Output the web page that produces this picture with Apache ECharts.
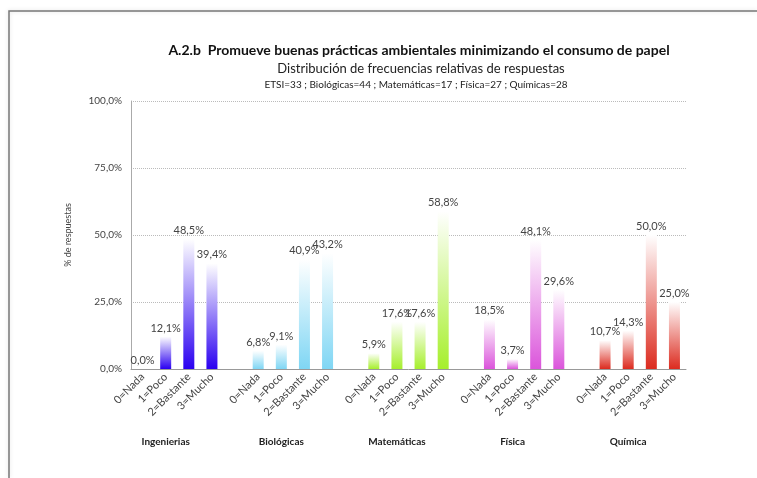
<!DOCTYPE html>
<html>
<head>
<meta charset="utf-8">
<title>A.2.b</title>
<script src="https://cdn.jsdelivr.net/npm/echarts@6/dist/echarts.min.js"></script>
<style>
    html, body { margin: 0; padding: 0; background: #ffffff; }
    #main { width: 757px; height: 478px; }
</style>
</head>
<body>
<div id="main"></div>
<script>
// datos (% de respuestas)
const groups = ['Ingenierias', 'Biológicas', 'Matemáticas', 'Física', 'Química'];
const levels = ['0=Nada', '1=Poco', '2=Bastante', '3=Mucho'];
const ingenierias = [0.0, 12.1, 48.5, 39.4];
const biologicas = [6.8, 9.1, 40.9, 43.2];
const matematicas = [5.9, 17.6, 17.6, 58.8];
const fisica = [18.5, 3.7, 48.1, 29.6];
const quimica = [10.7, 14.3, 50.0, 25.0];
const yTicks = [0, 25, 50, 75, 100];

const groupValues = [ingenierias, biologicas, matematicas, fisica, quimica];
const groupColors = ['#2a00f0', '#7fd6f4', '#a6ef2c', '#db55db', '#dc2b1f'];

const font = 'Lato, "Open Sans", sans-serif';

function pct(v) {
    return v.toFixed(1).replace('.', ',') + '%';
}

// categorías: 4 niveles por grupo + un hueco entre grupos
const categories = [];
const groupLabels = [];
const barData = [];
groups.forEach(function (g, gi) {
    levels.forEach(function (lv, li) {
        categories.push(lv);
        groupLabels.push(li === 1 ? g : '');
        barData.push({
            value: groupValues[gi][li],
            itemStyle: {
                color: new echarts.graphic.LinearGradient(0, 0, 0, 1, [
                    { offset: 0, color: '#ffffff' },
                    { offset: 1, color: groupColors[gi] }
                ])
            }
        });
    });
    if (gi < groups.length - 1) {
        categories.push('');
        groupLabels.push('');
        barData.push('-');
    }
});

const chart = echarts.init(document.getElementById('main'), null, { renderer: 'canvas' });

const option = {
    animation: false,
    textStyle: { fontFamily: font },
    title: [
        {
            text: 'A.2.b  Promueve buenas prácticas ambientales minimizando el consumo de papel',
            left: 414, top: 38, textAlign: 'center',
            textStyle: { fontSize: 14, fontWeight: 'bold', color: '#111', fontFamily: font }
        },
        {
            text: 'Distribución de frecuencias relativas de respuestas',
            left: 416, top: 57, textAlign: 'center',
            textStyle: { fontSize: 13, fontWeight: 'normal', color: '#222', fontFamily: font }
        },
        {
            text: 'ETSI=33 ; Biológicas=44 ; Matemáticas=17 ; Física=27 ; Químicas=28',
            left: 411, top: 75, textAlign: 'center',
            textStyle: { fontSize: 10, fontWeight: 'normal', color: '#222', fontFamily: font }
        }
    ],
    graphic: [
        {
            type: 'polyline',
            shape: { points: [[9, 478], [9, 11], [757, 11]] },
            style: { stroke: '#777', lineWidth: 1.5, fill: null, shadowColor: 'rgba(0,0,0,0.15)', shadowBlur: 4 }
        }
    ],
    grid: { left: 131, right: 71, top: 101, bottom: 109 },
    xAxis: [
        {
            type: 'category',
            data: categories,
            axisLine: { lineStyle: { color: '#999' } },
            axisTick: { interval: 0, length: 5, lineStyle: { color: '#999' } },
            axisLabel: { interval: 0, rotate: 45, fontSize: 11, color: '#444', margin: 6 }
        },
        {
            type: 'category',
            position: 'bottom',
            offset: 60,
            data: groupLabels,
            axisLine: { show: false },
            axisTick: { show: false },
            axisLabel: { interval: 0, fontSize: 10, fontWeight: 'bold', color: '#222', margin: 8 }
        }
    ],
    yAxis: {
        type: 'value',
        min: yTicks[0],
        max: yTicks[yTicks.length - 1],
        interval: 25,
        name: '% de respuestas',
        nameLocation: 'middle',
        nameGap: 58,
        nameTextStyle: { fontSize: 9, color: '#444' },
        axisLine: { show: true, lineStyle: { color: '#aaa' } },
        axisTick: { show: false },
        axisLabel: { formatter: pct, fontSize: 10, color: '#444', margin: 9 },
        splitLine: { lineStyle: { color: '#bbb', type: 'dotted' } }
    },
    series: [
        {
            type: 'bar',
            xAxisIndex: 0,
            barWidth: 11,
            data: barData,
            label: {
                show: true,
                position: 'top',
                distance: 3,
                fontSize: 11,
                color: '#444',
                formatter: function (p) { return pct(p.value); }
            }
        }
    ]
};

chart.setOption(option);
</script>
</body>
</html>
